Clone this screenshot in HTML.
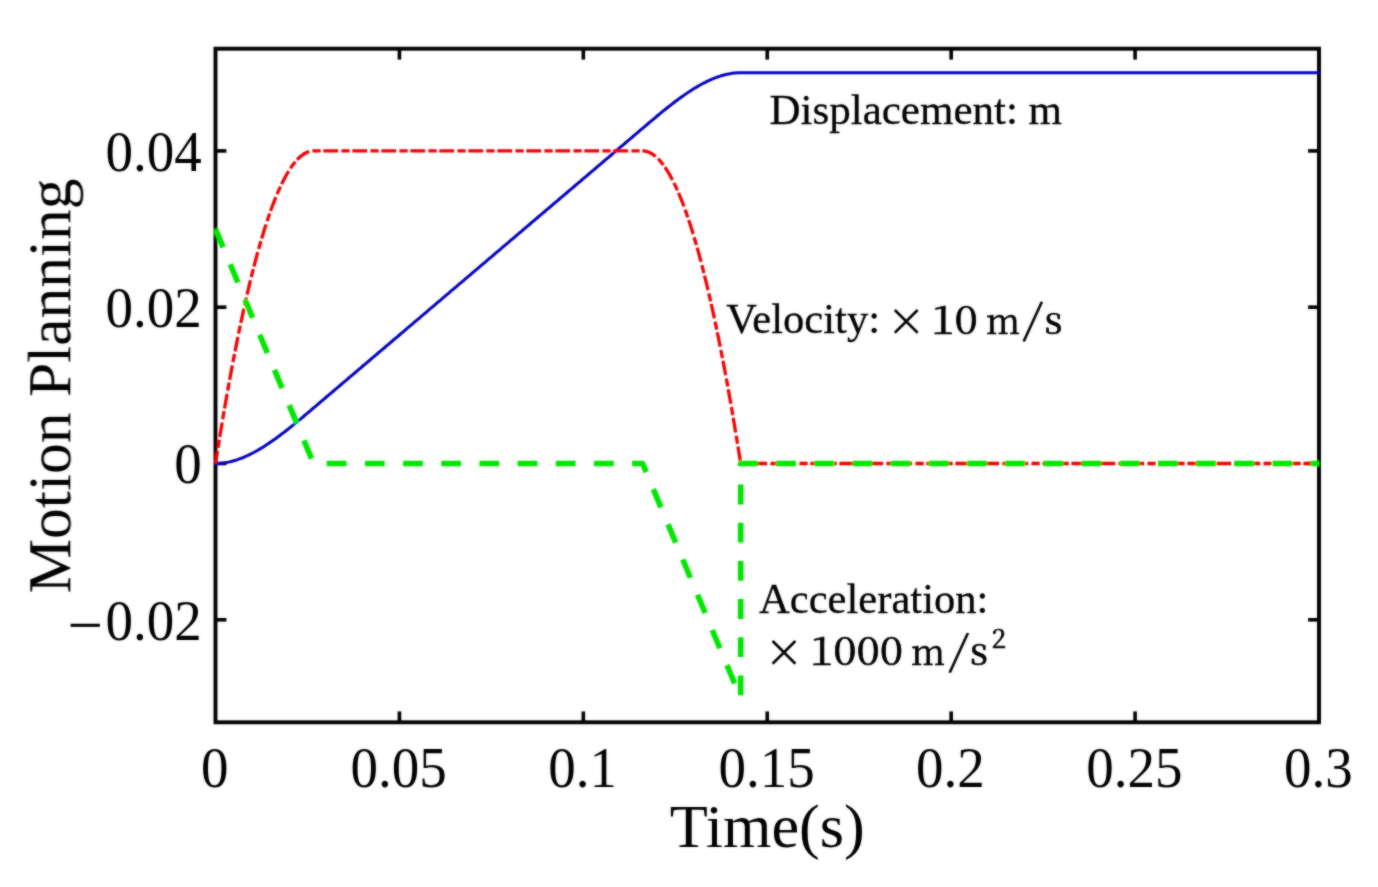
<!DOCTYPE html>
<html><head><meta charset="utf-8"><title>Motion Planning</title>
<style>
html,body{margin:0;padding:0;background:#fff;}
body{width:1378px;height:887px;overflow:hidden;}
svg{display:block;}
text{font-family:"Liberation Serif",serif;fill:#000;}
.m{font-family:"Noto Serif CJK SC","Liberation Serif",serif;stroke:#000;stroke-width:0.7px;}
</style></head><body>
<svg width="1378" height="887" viewBox="0 0 1378 887">
<defs><filter id="b" x="0" y="0" width="1378" height="887" filterUnits="userSpaceOnUse"><feGaussianBlur in="SourceGraphic" stdDeviation="0.9" result="bl"/><feComposite in="SourceGraphic" in2="bl" operator="arithmetic" k1="0" k2="0.50" k3="0.50" k4="0"/></filter></defs>
<rect width="1378" height="887" fill="#fff"/>
<g filter="url(#b)">
<rect x="215.5" y="48.7" width="1103.5" height="673.60" fill="none" stroke="#000" stroke-width="3.9"/>
<g stroke="#000" stroke-width="3.6">
<line x1="399.42" y1="722.3" x2="399.42" y2="711.4"/><line x1="399.42" y1="48.7" x2="399.42" y2="59.6"/><line x1="583.33" y1="722.3" x2="583.33" y2="711.4"/><line x1="583.33" y1="48.7" x2="583.33" y2="59.6"/><line x1="767.25" y1="722.3" x2="767.25" y2="711.4"/><line x1="767.25" y1="48.7" x2="767.25" y2="59.6"/><line x1="951.17" y1="722.3" x2="951.17" y2="711.4"/><line x1="951.17" y1="48.7" x2="951.17" y2="59.6"/><line x1="1135.08" y1="722.3" x2="1135.08" y2="711.4"/><line x1="1135.08" y1="48.7" x2="1135.08" y2="59.6"/><line x1="215.5" y1="150.90" x2="226.4" y2="150.90"/><line x1="1319.0" y1="150.90" x2="1308.1" y2="150.90"/><line x1="215.5" y1="307.20" x2="226.4" y2="307.20"/><line x1="1319.0" y1="307.20" x2="1308.1" y2="307.20"/><line x1="215.5" y1="463.50" x2="226.4" y2="463.50"/><line x1="1319.0" y1="463.50" x2="1308.1" y2="463.50"/><line x1="215.5" y1="619.80" x2="226.4" y2="619.80"/><line x1="1319.0" y1="619.80" x2="1308.1" y2="619.80"/>
</g>
<g fill="none" stroke-linejoin="round">
<path d="M215.50,463.50 L217.34,463.47 L219.18,463.38 L221.02,463.24 L222.86,463.04 L224.70,462.79 L226.53,462.48 L228.37,462.13 L230.21,461.72 L232.05,461.26 L233.89,460.75 L235.73,460.20 L237.57,459.60 L239.41,458.95 L241.25,458.26 L243.09,457.52 L244.93,456.75 L246.77,455.93 L248.61,455.07 L250.44,454.18 L252.28,453.24 L254.12,452.27 L255.96,451.27 L257.80,450.23 L259.64,449.15 L261.48,448.05 L263.32,446.91 L265.16,445.74 L267.00,444.54 L268.84,443.32 L270.68,442.07 L272.51,440.79 L274.35,439.49 L276.19,438.17 L278.03,436.82 L279.87,435.45 L281.71,434.06 L283.55,432.66 L285.39,431.23 L287.23,429.79 L289.07,428.33 L290.91,426.86 L292.75,425.37 L294.58,423.88 L296.42,422.37 L298.26,420.85 L300.10,419.32 L301.94,417.78 L303.78,416.23 L305.62,414.68 L307.46,413.13 L309.30,411.57 L311.14,410.01 L312.98,408.45 L313.59,407.93 L314.81,406.88 L316.65,405.32 L318.49,403.76 L320.33,402.20 L322.17,400.63 L324.01,399.07 L325.85,397.51 L327.69,395.94 L329.53,394.38 L331.37,392.82 L333.21,391.25 L335.05,389.69 L336.88,388.13 L338.72,386.57 L340.56,385.00 L342.40,383.44 L344.24,381.88 L346.08,380.31 L347.92,378.75 L349.76,377.19 L351.60,375.62 L353.44,374.06 L355.28,372.50 L357.12,370.94 L358.96,369.37 L360.79,367.81 L362.63,366.25 L364.47,364.68 L366.31,363.12 L368.15,361.56 L369.99,359.99 L371.83,358.43 L373.67,356.87 L375.51,355.31 L377.35,353.74 L379.19,352.18 L381.02,350.62 L382.86,349.05 L384.70,347.49 L386.54,345.93 L388.38,344.36 L390.22,342.80 L392.06,341.24 L393.90,339.68 L395.74,338.11 L397.58,336.55 L399.42,334.99 L401.26,333.42 L403.10,331.86 L404.93,330.30 L406.77,328.73 L408.61,327.17 L410.45,325.61 L412.29,324.05 L414.13,322.48 L415.97,320.92 L417.81,319.36 L419.65,317.79 L421.49,316.23 L423.33,314.67 L425.17,313.10 L427.00,311.54 L428.84,309.98 L430.68,308.42 L432.52,306.85 L434.36,305.29 L436.20,303.73 L438.04,302.16 L439.88,300.60 L441.72,299.04 L443.56,297.47 L445.40,295.91 L447.24,294.35 L449.07,292.79 L450.91,291.22 L452.75,289.66 L454.59,288.10 L456.43,286.53 L458.27,284.97 L460.11,283.41 L461.95,281.84 L463.79,280.28 L465.63,278.72 L467.47,277.16 L469.31,275.59 L471.14,274.03 L472.98,272.47 L474.82,270.90 L476.66,269.34 L478.50,267.78 L480.34,266.21 L482.18,264.65 L484.02,263.09 L485.86,261.53 L487.70,259.96 L489.54,258.40 L491.38,256.84 L493.21,255.27 L495.05,253.71 L496.89,252.15 L498.73,250.58 L500.57,249.02 L502.41,247.46 L504.25,245.90 L506.09,244.33 L507.93,242.77 L509.77,241.21 L511.61,239.64 L513.45,238.08 L515.28,236.52 L517.12,234.95 L518.96,233.39 L520.80,231.83 L522.64,230.27 L524.48,228.70 L526.32,227.14 L528.16,225.58 L530.00,224.01 L531.84,222.45 L533.68,220.89 L535.52,219.32 L537.35,217.76 L539.19,216.20 L541.03,214.64 L542.87,213.07 L544.71,211.51 L546.55,209.95 L548.39,208.38 L550.23,206.82 L552.07,205.26 L553.91,203.69 L555.75,202.13 L557.59,200.57 L559.42,199.01 L561.26,197.44 L563.10,195.88 L564.94,194.32 L566.78,192.75 L568.62,191.19 L570.46,189.63 L572.30,188.06 L574.14,186.50 L575.98,184.94 L577.82,183.38 L579.65,181.81 L581.49,180.25 L583.33,178.69 L585.17,177.12 L587.01,175.56 L588.85,174.00 L590.69,172.43 L592.53,170.87 L594.37,169.31 L596.21,167.75 L598.05,166.18 L599.89,164.62 L601.73,163.06 L603.56,161.49 L605.40,159.93 L607.24,158.37 L609.08,156.80 L610.92,155.24 L612.76,153.68 L614.60,152.12 L616.44,150.55 L618.28,148.99 L620.12,147.43 L621.96,145.86 L623.80,144.30 L625.63,142.74 L627.47,141.17 L629.31,139.61 L631.15,138.05 L632.99,136.49 L634.83,134.92 L636.67,133.36 L638.51,131.80 L640.35,130.23 L642.19,128.67 L642.60,128.32 L644.03,127.11 L645.87,125.55 L647.70,123.99 L649.54,122.43 L651.38,120.88 L653.22,119.33 L655.06,117.79 L656.90,116.25 L658.74,114.73 L660.58,113.21 L662.42,111.71 L664.26,110.21 L666.10,108.73 L667.93,107.27 L669.77,105.82 L671.61,104.38 L673.45,102.96 L675.29,101.57 L677.13,100.19 L678.97,98.83 L680.81,97.49 L682.65,96.18 L684.49,94.89 L686.33,93.62 L688.17,92.38 L690.01,91.17 L691.84,89.99 L693.68,88.83 L695.52,87.71 L697.36,86.62 L699.20,85.56 L701.04,84.53 L702.88,83.54 L704.72,82.59 L706.56,81.67 L708.40,80.79 L710.24,79.95 L712.08,79.15 L713.91,78.39 L715.75,77.68 L717.59,77.01 L719.43,76.38 L721.27,75.80 L723.11,75.27 L724.95,74.78 L726.79,74.34 L728.63,73.96 L730.47,73.62 L732.31,73.34 L734.15,73.11 L735.98,72.94 L737.82,72.82 L739.66,72.76 L740.68,72.75 L741.50,72.75 L743.34,72.75 L745.18,72.75 L747.02,72.75 L748.86,72.75 L750.70,72.75 L752.54,72.75 L754.38,72.75 L756.22,72.75 L758.05,72.75 L759.89,72.75 L761.73,72.75 L763.57,72.75 L765.41,72.75 L767.25,72.75 L769.09,72.75 L770.93,72.75 L772.77,72.75 L774.61,72.75 L776.45,72.75 L778.28,72.75 L780.12,72.75 L781.96,72.75 L783.80,72.75 L785.64,72.75 L787.48,72.75 L789.32,72.75 L791.16,72.75 L793.00,72.75 L794.84,72.75 L796.68,72.75 L798.52,72.75 L800.36,72.75 L802.19,72.75 L804.03,72.75 L805.87,72.75 L807.71,72.75 L809.55,72.75 L811.39,72.75 L813.23,72.75 L815.07,72.75 L816.91,72.75 L818.75,72.75 L820.59,72.75 L822.43,72.75 L824.26,72.75 L826.10,72.75 L827.94,72.75 L829.78,72.75 L831.62,72.75 L833.46,72.75 L835.30,72.75 L837.14,72.75 L838.98,72.75 L840.82,72.75 L842.66,72.75 L844.50,72.75 L846.33,72.75 L848.17,72.75 L850.01,72.75 L851.85,72.75 L853.69,72.75 L855.53,72.75 L857.37,72.75 L859.21,72.75 L861.05,72.75 L862.89,72.75 L864.73,72.75 L866.56,72.75 L868.40,72.75 L870.24,72.75 L872.08,72.75 L873.92,72.75 L875.76,72.75 L877.60,72.75 L879.44,72.75 L881.28,72.75 L883.12,72.75 L884.96,72.75 L886.80,72.75 L888.63,72.75 L890.47,72.75 L892.31,72.75 L894.15,72.75 L895.99,72.75 L897.83,72.75 L899.67,72.75 L901.51,72.75 L903.35,72.75 L905.19,72.75 L907.03,72.75 L908.87,72.75 L910.71,72.75 L912.54,72.75 L914.38,72.75 L916.22,72.75 L918.06,72.75 L919.90,72.75 L921.74,72.75 L923.58,72.75 L925.42,72.75 L927.26,72.75 L929.10,72.75 L930.94,72.75 L932.78,72.75 L934.61,72.75 L936.45,72.75 L938.29,72.75 L940.13,72.75 L941.97,72.75 L943.81,72.75 L945.65,72.75 L947.49,72.75 L949.33,72.75 L951.17,72.75 L953.01,72.75 L954.85,72.75 L956.68,72.75 L958.52,72.75 L960.36,72.75 L962.20,72.75 L964.04,72.75 L965.88,72.75 L967.72,72.75 L969.56,72.75 L971.40,72.75 L973.24,72.75 L975.08,72.75 L976.92,72.75 L978.75,72.75 L980.59,72.75 L982.43,72.75 L984.27,72.75 L986.11,72.75 L987.95,72.75 L989.79,72.75 L991.63,72.75 L993.47,72.75 L995.31,72.75 L997.15,72.75 L998.99,72.75 L1000.82,72.75 L1002.66,72.75 L1004.50,72.75 L1006.34,72.75 L1008.18,72.75 L1010.02,72.75 L1011.86,72.75 L1013.70,72.75 L1015.54,72.75 L1017.38,72.75 L1019.22,72.75 L1021.06,72.75 L1022.89,72.75 L1024.73,72.75 L1026.57,72.75 L1028.41,72.75 L1030.25,72.75 L1032.09,72.75 L1033.93,72.75 L1035.77,72.75 L1037.61,72.75 L1039.45,72.75 L1041.29,72.75 L1043.12,72.75 L1044.96,72.75 L1046.80,72.75 L1048.64,72.75 L1050.48,72.75 L1052.32,72.75 L1054.16,72.75 L1056.00,72.75 L1057.84,72.75 L1059.68,72.75 L1061.52,72.75 L1063.36,72.75 L1065.20,72.75 L1067.03,72.75 L1068.87,72.75 L1070.71,72.75 L1072.55,72.75 L1074.39,72.75 L1076.23,72.75 L1078.07,72.75 L1079.91,72.75 L1081.75,72.75 L1083.59,72.75 L1085.43,72.75 L1087.27,72.75 L1089.10,72.75 L1090.94,72.75 L1092.78,72.75 L1094.62,72.75 L1096.46,72.75 L1098.30,72.75 L1100.14,72.75 L1101.98,72.75 L1103.82,72.75 L1105.66,72.75 L1107.50,72.75 L1109.34,72.75 L1111.17,72.75 L1113.01,72.75 L1114.85,72.75 L1116.69,72.75 L1118.53,72.75 L1120.37,72.75 L1122.21,72.75 L1124.05,72.75 L1125.89,72.75 L1127.73,72.75 L1129.57,72.75 L1131.41,72.75 L1133.24,72.75 L1135.08,72.75 L1136.92,72.75 L1138.76,72.75 L1140.60,72.75 L1142.44,72.75 L1144.28,72.75 L1146.12,72.75 L1147.96,72.75 L1149.80,72.75 L1151.64,72.75 L1153.47,72.75 L1155.31,72.75 L1157.15,72.75 L1158.99,72.75 L1160.83,72.75 L1162.67,72.75 L1164.51,72.75 L1166.35,72.75 L1168.19,72.75 L1170.03,72.75 L1171.87,72.75 L1173.71,72.75 L1175.55,72.75 L1177.38,72.75 L1179.22,72.75 L1181.06,72.75 L1182.90,72.75 L1184.74,72.75 L1186.58,72.75 L1188.42,72.75 L1190.26,72.75 L1192.10,72.75 L1193.94,72.75 L1195.78,72.75 L1197.62,72.75 L1199.45,72.75 L1201.29,72.75 L1203.13,72.75 L1204.97,72.75 L1206.81,72.75 L1208.65,72.75 L1210.49,72.75 L1212.33,72.75 L1214.17,72.75 L1216.01,72.75 L1217.85,72.75 L1219.69,72.75 L1221.52,72.75 L1223.36,72.75 L1225.20,72.75 L1227.04,72.75 L1228.88,72.75 L1230.72,72.75 L1232.56,72.75 L1234.40,72.75 L1236.24,72.75 L1238.08,72.75 L1239.92,72.75 L1241.76,72.75 L1243.59,72.75 L1245.43,72.75 L1247.27,72.75 L1249.11,72.75 L1250.95,72.75 L1252.79,72.75 L1254.63,72.75 L1256.47,72.75 L1258.31,72.75 L1260.15,72.75 L1261.99,72.75 L1263.83,72.75 L1265.66,72.75 L1267.50,72.75 L1269.34,72.75 L1271.18,72.75 L1273.02,72.75 L1274.86,72.75 L1276.70,72.75 L1278.54,72.75 L1280.38,72.75 L1282.22,72.75 L1284.06,72.75 L1285.89,72.75 L1287.73,72.75 L1289.57,72.75 L1291.41,72.75 L1293.25,72.75 L1295.09,72.75 L1296.93,72.75 L1298.77,72.75 L1300.61,72.75 L1302.45,72.75 L1304.29,72.75 L1306.13,72.75 L1307.96,72.75 L1309.80,72.75 L1311.64,72.75 L1313.48,72.75 L1315.32,72.75 L1317.16,72.75 L1319.00,72.75" stroke="#0000c0" stroke-width="3.0"/>
<path d="M215.50,463.50 L217.34,451.89 L219.18,440.49 L221.02,429.32 L222.86,418.37 L224.70,407.63 L226.53,397.12 L228.37,386.83 L230.21,376.75 L232.05,366.90 L233.89,357.26 L235.73,347.85 L237.57,338.66 L239.41,329.68 L241.25,320.93 L243.09,312.39 L244.93,304.07 L246.77,295.98 L248.61,288.10 L250.44,280.45 L252.28,273.01 L254.12,265.79 L255.96,258.80 L257.80,252.02 L259.64,245.46 L261.48,239.12 L263.32,233.01 L265.16,227.11 L267.00,221.43 L268.84,215.97 L270.68,210.73 L272.51,205.71 L274.35,200.92 L276.19,196.34 L278.03,191.98 L279.87,187.84 L281.71,183.92 L283.55,180.22 L285.39,176.74 L287.23,173.48 L289.07,170.44 L290.91,167.62 L292.75,165.02 L294.58,162.63 L296.42,160.47 L298.26,158.53 L300.10,156.81 L301.94,155.31 L303.78,154.03 L305.62,152.96 L307.46,152.12 L309.30,151.50 L311.14,151.10 L312.98,150.91 L313.59,150.90 L314.81,150.90 L316.65,150.90 L318.49,150.90 L320.33,150.90 L322.17,150.90 L324.01,150.90 L325.85,150.90 L327.69,150.90 L329.53,150.90 L331.37,150.90 L333.21,150.90 L335.05,150.90 L336.88,150.90 L338.72,150.90 L340.56,150.90 L342.40,150.90 L344.24,150.90 L346.08,150.90 L347.92,150.90 L349.76,150.90 L351.60,150.90 L353.44,150.90 L355.28,150.90 L357.12,150.90 L358.96,150.90 L360.79,150.90 L362.63,150.90 L364.47,150.90 L366.31,150.90 L368.15,150.90 L369.99,150.90 L371.83,150.90 L373.67,150.90 L375.51,150.90 L377.35,150.90 L379.19,150.90 L381.02,150.90 L382.86,150.90 L384.70,150.90 L386.54,150.90 L388.38,150.90 L390.22,150.90 L392.06,150.90 L393.90,150.90 L395.74,150.90 L397.58,150.90 L399.42,150.90 L401.26,150.90 L403.10,150.90 L404.93,150.90 L406.77,150.90 L408.61,150.90 L410.45,150.90 L412.29,150.90 L414.13,150.90 L415.97,150.90 L417.81,150.90 L419.65,150.90 L421.49,150.90 L423.33,150.90 L425.17,150.90 L427.00,150.90 L428.84,150.90 L430.68,150.90 L432.52,150.90 L434.36,150.90 L436.20,150.90 L438.04,150.90 L439.88,150.90 L441.72,150.90 L443.56,150.90 L445.40,150.90 L447.24,150.90 L449.07,150.90 L450.91,150.90 L452.75,150.90 L454.59,150.90 L456.43,150.90 L458.27,150.90 L460.11,150.90 L461.95,150.90 L463.79,150.90 L465.63,150.90 L467.47,150.90 L469.31,150.90 L471.14,150.90 L472.98,150.90 L474.82,150.90 L476.66,150.90 L478.50,150.90 L480.34,150.90 L482.18,150.90 L484.02,150.90 L485.86,150.90 L487.70,150.90 L489.54,150.90 L491.38,150.90 L493.21,150.90 L495.05,150.90 L496.89,150.90 L498.73,150.90 L500.57,150.90 L502.41,150.90 L504.25,150.90 L506.09,150.90 L507.93,150.90 L509.77,150.90 L511.61,150.90 L513.45,150.90 L515.28,150.90 L517.12,150.90 L518.96,150.90 L520.80,150.90 L522.64,150.90 L524.48,150.90 L526.32,150.90 L528.16,150.90 L530.00,150.90 L531.84,150.90 L533.68,150.90 L535.52,150.90 L537.35,150.90 L539.19,150.90 L541.03,150.90 L542.87,150.90 L544.71,150.90 L546.55,150.90 L548.39,150.90 L550.23,150.90 L552.07,150.90 L553.91,150.90 L555.75,150.90 L557.59,150.90 L559.42,150.90 L561.26,150.90 L563.10,150.90 L564.94,150.90 L566.78,150.90 L568.62,150.90 L570.46,150.90 L572.30,150.90 L574.14,150.90 L575.98,150.90 L577.82,150.90 L579.65,150.90 L581.49,150.90 L583.33,150.90 L585.17,150.90 L587.01,150.90 L588.85,150.90 L590.69,150.90 L592.53,150.90 L594.37,150.90 L596.21,150.90 L598.05,150.90 L599.89,150.90 L601.73,150.90 L603.56,150.90 L605.40,150.90 L607.24,150.90 L609.08,150.90 L610.92,150.90 L612.76,150.90 L614.60,150.90 L616.44,150.90 L618.28,150.90 L620.12,150.90 L621.96,150.90 L623.80,150.90 L625.63,150.90 L627.47,150.90 L629.31,150.90 L631.15,150.90 L632.99,150.90 L634.83,150.90 L636.67,150.90 L638.51,150.90 L640.35,150.90 L642.19,150.90 L642.60,150.90 L644.03,150.97 L645.87,151.25 L647.70,151.75 L649.54,152.47 L651.38,153.41 L653.22,154.57 L655.06,155.95 L656.90,157.55 L658.74,159.37 L660.58,161.41 L662.42,163.67 L664.26,166.14 L666.10,168.84 L667.93,171.76 L669.77,174.90 L671.61,178.26 L673.45,181.84 L675.29,185.63 L677.13,189.65 L678.97,193.89 L680.81,198.34 L682.65,203.02 L684.49,207.92 L686.33,213.03 L688.17,218.37 L690.01,223.93 L691.84,229.70 L693.68,235.70 L695.52,241.91 L697.36,248.35 L699.20,255.00 L701.04,261.88 L702.88,268.97 L704.72,276.29 L706.56,283.82 L708.40,291.58 L710.24,299.55 L712.08,307.74 L713.91,316.16 L715.75,324.79 L717.59,333.64 L719.43,342.71 L721.27,352.01 L723.11,361.52 L724.95,371.25 L726.79,381.20 L728.63,391.38 L730.47,401.77 L732.31,412.38 L734.15,423.21 L735.98,434.26 L737.82,445.53 L739.66,457.02 L740.68,463.50 L741.50,463.50 L743.34,463.50 L745.18,463.50 L747.02,463.50 L748.86,463.50 L750.70,463.50 L752.54,463.50 L754.38,463.50 L756.22,463.50 L758.05,463.50 L759.89,463.50 L761.73,463.50 L763.57,463.50 L765.41,463.50 L767.25,463.50 L769.09,463.50 L770.93,463.50 L772.77,463.50 L774.61,463.50 L776.45,463.50 L778.28,463.50 L780.12,463.50 L781.96,463.50 L783.80,463.50 L785.64,463.50 L787.48,463.50 L789.32,463.50 L791.16,463.50 L793.00,463.50 L794.84,463.50 L796.68,463.50 L798.52,463.50 L800.36,463.50 L802.19,463.50 L804.03,463.50 L805.87,463.50 L807.71,463.50 L809.55,463.50 L811.39,463.50 L813.23,463.50 L815.07,463.50 L816.91,463.50 L818.75,463.50 L820.59,463.50 L822.43,463.50 L824.26,463.50 L826.10,463.50 L827.94,463.50 L829.78,463.50 L831.62,463.50 L833.46,463.50 L835.30,463.50 L837.14,463.50 L838.98,463.50 L840.82,463.50 L842.66,463.50 L844.50,463.50 L846.33,463.50 L848.17,463.50 L850.01,463.50 L851.85,463.50 L853.69,463.50 L855.53,463.50 L857.37,463.50 L859.21,463.50 L861.05,463.50 L862.89,463.50 L864.73,463.50 L866.56,463.50 L868.40,463.50 L870.24,463.50 L872.08,463.50 L873.92,463.50 L875.76,463.50 L877.60,463.50 L879.44,463.50 L881.28,463.50 L883.12,463.50 L884.96,463.50 L886.80,463.50 L888.63,463.50 L890.47,463.50 L892.31,463.50 L894.15,463.50 L895.99,463.50 L897.83,463.50 L899.67,463.50 L901.51,463.50 L903.35,463.50 L905.19,463.50 L907.03,463.50 L908.87,463.50 L910.71,463.50 L912.54,463.50 L914.38,463.50 L916.22,463.50 L918.06,463.50 L919.90,463.50 L921.74,463.50 L923.58,463.50 L925.42,463.50 L927.26,463.50 L929.10,463.50 L930.94,463.50 L932.78,463.50 L934.61,463.50 L936.45,463.50 L938.29,463.50 L940.13,463.50 L941.97,463.50 L943.81,463.50 L945.65,463.50 L947.49,463.50 L949.33,463.50 L951.17,463.50 L953.01,463.50 L954.85,463.50 L956.68,463.50 L958.52,463.50 L960.36,463.50 L962.20,463.50 L964.04,463.50 L965.88,463.50 L967.72,463.50 L969.56,463.50 L971.40,463.50 L973.24,463.50 L975.08,463.50 L976.92,463.50 L978.75,463.50 L980.59,463.50 L982.43,463.50 L984.27,463.50 L986.11,463.50 L987.95,463.50 L989.79,463.50 L991.63,463.50 L993.47,463.50 L995.31,463.50 L997.15,463.50 L998.99,463.50 L1000.82,463.50 L1002.66,463.50 L1004.50,463.50 L1006.34,463.50 L1008.18,463.50 L1010.02,463.50 L1011.86,463.50 L1013.70,463.50 L1015.54,463.50 L1017.38,463.50 L1019.22,463.50 L1021.06,463.50 L1022.89,463.50 L1024.73,463.50 L1026.57,463.50 L1028.41,463.50 L1030.25,463.50 L1032.09,463.50 L1033.93,463.50 L1035.77,463.50 L1037.61,463.50 L1039.45,463.50 L1041.29,463.50 L1043.12,463.50 L1044.96,463.50 L1046.80,463.50 L1048.64,463.50 L1050.48,463.50 L1052.32,463.50 L1054.16,463.50 L1056.00,463.50 L1057.84,463.50 L1059.68,463.50 L1061.52,463.50 L1063.36,463.50 L1065.20,463.50 L1067.03,463.50 L1068.87,463.50 L1070.71,463.50 L1072.55,463.50 L1074.39,463.50 L1076.23,463.50 L1078.07,463.50 L1079.91,463.50 L1081.75,463.50 L1083.59,463.50 L1085.43,463.50 L1087.27,463.50 L1089.10,463.50 L1090.94,463.50 L1092.78,463.50 L1094.62,463.50 L1096.46,463.50 L1098.30,463.50 L1100.14,463.50 L1101.98,463.50 L1103.82,463.50 L1105.66,463.50 L1107.50,463.50 L1109.34,463.50 L1111.17,463.50 L1113.01,463.50 L1114.85,463.50 L1116.69,463.50 L1118.53,463.50 L1120.37,463.50 L1122.21,463.50 L1124.05,463.50 L1125.89,463.50 L1127.73,463.50 L1129.57,463.50 L1131.41,463.50 L1133.24,463.50 L1135.08,463.50 L1136.92,463.50 L1138.76,463.50 L1140.60,463.50 L1142.44,463.50 L1144.28,463.50 L1146.12,463.50 L1147.96,463.50 L1149.80,463.50 L1151.64,463.50 L1153.47,463.50 L1155.31,463.50 L1157.15,463.50 L1158.99,463.50 L1160.83,463.50 L1162.67,463.50 L1164.51,463.50 L1166.35,463.50 L1168.19,463.50 L1170.03,463.50 L1171.87,463.50 L1173.71,463.50 L1175.55,463.50 L1177.38,463.50 L1179.22,463.50 L1181.06,463.50 L1182.90,463.50 L1184.74,463.50 L1186.58,463.50 L1188.42,463.50 L1190.26,463.50 L1192.10,463.50 L1193.94,463.50 L1195.78,463.50 L1197.62,463.50 L1199.45,463.50 L1201.29,463.50 L1203.13,463.50 L1204.97,463.50 L1206.81,463.50 L1208.65,463.50 L1210.49,463.50 L1212.33,463.50 L1214.17,463.50 L1216.01,463.50 L1217.85,463.50 L1219.69,463.50 L1221.52,463.50 L1223.36,463.50 L1225.20,463.50 L1227.04,463.50 L1228.88,463.50 L1230.72,463.50 L1232.56,463.50 L1234.40,463.50 L1236.24,463.50 L1238.08,463.50 L1239.92,463.50 L1241.76,463.50 L1243.59,463.50 L1245.43,463.50 L1247.27,463.50 L1249.11,463.50 L1250.95,463.50 L1252.79,463.50 L1254.63,463.50 L1256.47,463.50 L1258.31,463.50 L1260.15,463.50 L1261.99,463.50 L1263.83,463.50 L1265.66,463.50 L1267.50,463.50 L1269.34,463.50 L1271.18,463.50 L1273.02,463.50 L1274.86,463.50 L1276.70,463.50 L1278.54,463.50 L1280.38,463.50 L1282.22,463.50 L1284.06,463.50 L1285.89,463.50 L1287.73,463.50 L1289.57,463.50 L1291.41,463.50 L1293.25,463.50 L1295.09,463.50 L1296.93,463.50 L1298.77,463.50 L1300.61,463.50 L1302.45,463.50 L1304.29,463.50 L1306.13,463.50 L1307.96,463.50 L1309.80,463.50 L1311.64,463.50 L1313.48,463.50 L1315.32,463.50 L1317.16,463.50 L1319.00,463.50" stroke="#f20000" stroke-width="3.3" stroke-dasharray="14.8 3.3 8.2 2.7" stroke-dashoffset="2.2"/>
<path d="M215.50,229.05 L313.59,463.50 L642.60,463.50 L740.68,697.95 L740.68,463.50 L1319.00,463.50" stroke="#00e600" stroke-width="5.6" stroke-dasharray="19.8 18.38"/>
</g>
<g font-size="57">
<text x="214.80" y="786.8" text-anchor="middle" textLength="27.50" lengthAdjust="spacingAndGlyphs">0</text>
<text x="398.72" y="786.8" text-anchor="middle" textLength="96.26" lengthAdjust="spacingAndGlyphs">0.05</text>
<text x="582.63" y="786.8" text-anchor="middle" textLength="68.76" lengthAdjust="spacingAndGlyphs">0.1</text>
<text x="766.55" y="786.8" text-anchor="middle" textLength="96.26" lengthAdjust="spacingAndGlyphs">0.15</text>
<text x="950.47" y="786.8" text-anchor="middle" textLength="68.76" lengthAdjust="spacingAndGlyphs">0.2</text>
<text x="1134.38" y="786.8" text-anchor="middle" textLength="96.26" lengthAdjust="spacingAndGlyphs">0.25</text>
<text x="1318.30" y="786.8" text-anchor="middle" textLength="68.76" lengthAdjust="spacingAndGlyphs">0.3</text>
<text x="105.54" y="170.70" textLength="96.26" lengthAdjust="spacingAndGlyphs">0.04</text>
<text x="105.54" y="327.00" textLength="96.26" lengthAdjust="spacingAndGlyphs">0.02</text>
<text x="174.30" y="483.30" textLength="27.50" lengthAdjust="spacingAndGlyphs">0</text>
<text><tspan x="67.47" y="646.20" font-size="63">−</tspan><tspan x="105.54" y="639.60" textLength="96.26" lengthAdjust="spacingAndGlyphs">0.02</tspan></text>
</g>
<text x="767.3" y="847" text-anchor="middle" font-size="62.3">Time(s)</text>
<text transform="translate(70.3,386) rotate(-90)" text-anchor="middle" font-size="61.5">Motion Planning</text>
<g font-size="43" stroke="#000" stroke-width="0.3">
<text x="769.5" y="124.3">Displacement: m</text>
<text x="726.3" y="333.3" font-size="42.6">Velocity:</text>
<text class="m" y="334.00"><tspan font-size="38" style="stroke-width:1px" x="887.19" y="334.90">×</tspan> <tspan font-size="39.6" x="931.30" y="334.00" textLength="46.61" lengthAdjust="spacingAndGlyphs">10</tspan> <tspan font-size="37.5" x="985.98" y="334.00" textLength="33.97" lengthAdjust="spacingAndGlyphs">m</tspan><tspan font-size="43.4" x="1023.60" y="333.40" rotate="7.5">/</tspan><tspan font-size="38" x="1044.61" y="334.00">s</tspan></text>
<text x="759" y="613.0" font-size="42.6">Acceleration:</text>
<text class="m" y="665.30"><tspan font-size="38" style="stroke-width:1px" x="765.09" y="666.20">×</tspan> <tspan font-size="39.6" x="809.90" y="665.30" textLength="93.22" lengthAdjust="spacingAndGlyphs">1000</tspan> <tspan font-size="37.5" x="910.88" y="665.30" textLength="33.97" lengthAdjust="spacingAndGlyphs">m</tspan><tspan font-size="43.4" x="949.40" y="664.70" rotate="7.5">/</tspan><tspan font-size="38" x="969.91" y="665.30">s</tspan><tspan font-size="26" x="991.87" y="647.80">2</tspan></text>
</g>
</g>
</svg>
</body></html>
